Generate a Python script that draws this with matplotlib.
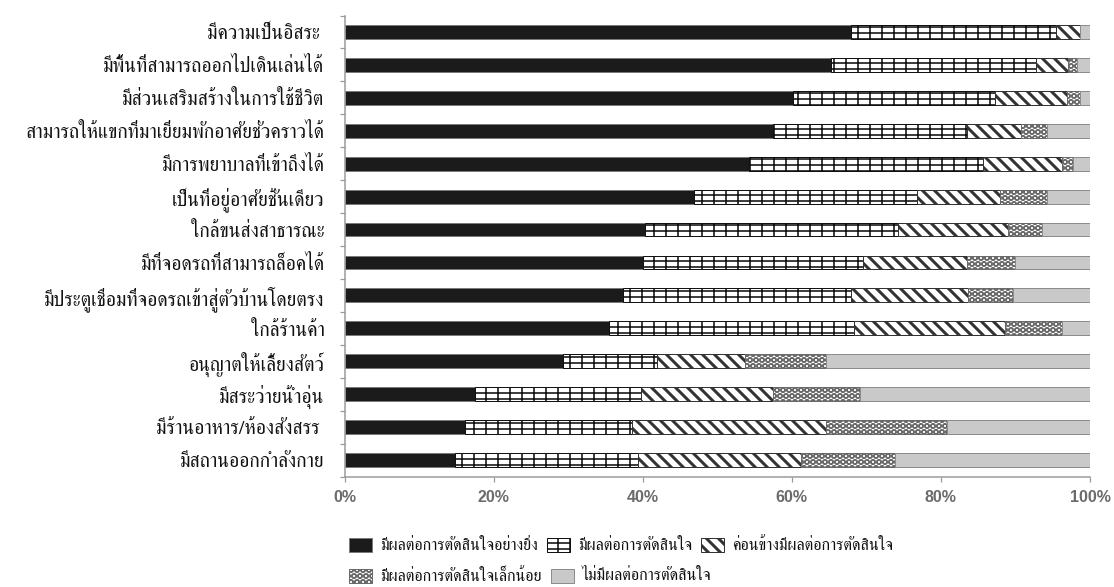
import numpy as np
import matplotlib
matplotlib.use("Agg")
import matplotlib.pyplot as plt
from matplotlib.patches import Rectangle

# factors, top row first
factors = [
    "มีความเป็นอิสระ ",
    "มีพื้นที่สามารถออกไปเดินเล่นได้",
    "มีส่วนเสริมสร้างในการใช้ชีวิต",
    "สามารถให้แขกที่มาเยี่ยมพักอาศัยชั่วคราวได้",
    "มีการพยาบาลที่เข้าถึงได้",
    "เป็นที่อยู่อาศัยชั้นเดียว",
    "ใกล้ขนส่งสาธารณะ",
    "มีที่จอดรถที่สามารถล็อคได้",
    "มีประตูเชื่อมที่จอดรถเข้าสู่ตัวบ้านโดยตรง",
    "ใกล้ร้านค้า",
    "อนุญาตให้เลี้ยงสัตว์",
    "มีสระว่ายน้ำอุ่น",
    "มีร้านอาหาร/ห้องสังสรร ",
    "มีสถานออกกำลังกาย",
]

series_names = [
    "มีผลต่อการตัดสินใจอย่างยิ่ง",
    "มีผลต่อการตัดสินใจ",
    "ค่อนข้างมีผลต่อการตัดสินใจ",
    "มีผลต่อการตัดสินใจเล็กน้อย",
    "ไม่มีผลต่อการตัดสินใจ",
]

# percent of respondents
strongly = [68.0, 65.3, 60.2, 57.5, 54.3, 46.9, 40.3, 40.1, 37.4, 35.5, 29.3, 17.5, 16.2, 14.8]
affects  = [27.4, 27.5, 27.1, 26.0, 31.3, 29.9, 34.0, 29.4, 30.6, 32.8, 12.6, 22.3, 22.3, 24.6]
somewhat = [3.3, 4.3, 9.6, 7.3, 10.6, 11.1, 14.7, 14.0, 15.7, 20.3, 11.8, 17.7, 26.1, 21.9]
slightly = [0.0, 1.2, 1.8, 3.4, 1.5, 6.3, 4.6, 6.4, 6.0, 7.7, 10.9, 11.6, 16.2, 12.5]
no_effect = [1.3, 1.7, 1.3, 5.8, 2.3, 5.8, 6.4, 10.1, 10.3, 3.7, 35.4, 30.9, 19.2, 26.2]

x_ticks = [0, 20, 40, 60, 80, 100]
x_ticklabels = ["0%", "20%", "40%", "60%", "80%", "100%"]

# fill, edge/hatch colour, hatch, hatch width
styles = [
    dict(facecolor="#1b1b1b", edgecolor="#7a7a7a", hatch=None, hlw=1.0),
    dict(facecolor="white", edgecolor="#111111", hatch="|--", hlw=1.6),
    dict(facecolor="white", edgecolor="#333333", hatch="\\\\", hlw=3.0),
    dict(facecolor="white", edgecolor="#6a6a6a", hatch="OO", hlw=1.5),
    dict(facecolor="#c9c9c9", edgecolor="#8c8c8c", hatch=None, hlw=1.0),
]

W, H = 1114, 587
DPI = 72
fig = plt.figure(figsize=(W / DPI, H / DPI), dpi=DPI)
ax = fig.add_axes([344.5 / W, 1 - 476.5 / H, (1090 - 344.5) / W, (476.5 - 15.5) / H])

thai = ["FreeSerif", "DejaVu Serif"]
y = np.arange(len(factors))
left = np.zeros(len(factors))
data = [strongly, affects, somewhat, slightly, no_effect]
for vals, st in zip(data, styles):
    plt.rcParams["hatch.linewidth"] = st["hlw"]
    bars = ax.barh(y, vals, left=left, height=0.42, facecolor=st["facecolor"],
                   edgecolor=st["edgecolor"], hatch=st["hatch"], linewidth=1.0)
    for b in bars:
        if hasattr(b, "set_hatch_linewidth"):
            b.set_hatch_linewidth(st["hlw"])
    left += np.array(vals)

ax.set_xlim(0, 100)
ax.set_ylim(len(factors) - 0.5, -0.5)

ax.set_xticks(x_ticks)
ax.set_xticklabels(x_ticklabels, fontsize=16, color="#6b6b6b",
                   family=["Liberation Sans", "DejaVu Sans"], fontweight="bold")
ax.tick_params(axis="x", direction="out", length=5, width=1.2, color="#999999", pad=9)

ax.set_yticks(y)
ax.set_yticklabels(factors, fontsize=19.5, family=thai, color="#111111")
ax.tick_params(axis="y", which="major", length=0, pad=20)
ax.set_yticks(np.arange(len(factors) + 1) - 0.5, minor=True)
ax.tick_params(axis="y", which="minor", direction="out", length=5, width=1.2, color="#999999")

for side in ["top", "right"]:
    ax.spines[side].set_visible(False)
for side in ["left", "bottom"]:
    ax.spines[side].set_color("#999999")
    ax.spines[side].set_linewidth(1.5)

# legend: swatch + label laid out left to right, two rows
rows = [(545, [0, 1, 2]), (576, [3, 4])]
x_start, x_end = 349, 893          # first row spans this width
sw_w, sw_h, txt_off, gap = 23, 14, 31, 9

texts = [fig.text(0, 0, name, family=thai, fontsize=16, ha="left", va="center",
                  color="#111111") for name in series_names]
fig.canvas.draw()
r = fig.canvas.get_renderer()
widths = [t.get_window_extent(r).width for t in texts]
row1 = sum(widths[i] for i in rows[0][1])
avail = (x_end - x_start) - len(rows[0][1]) * txt_off - (len(rows[0][1]) - 1) * gap
scale = avail / row1
for t in texts:
    t.set_fontsize(16 * scale)
widths = [w * scale for w in widths]

for py, idx in rows:
    px = x_start
    for i in idx:
        st = styles[i]
        plt.rcParams["hatch.linewidth"] = st["hlw"]
        sw = Rectangle((px / W, 1 - (py + sw_h / 2) / H), sw_w / W, sw_h / H,
                       transform=fig.transFigure, facecolor=st["facecolor"],
                       edgecolor=st["edgecolor"], hatch=st["hatch"], linewidth=1.0)
        if hasattr(sw, "set_hatch_linewidth"):
            sw.set_hatch_linewidth(st["hlw"])
        fig.add_artist(sw)
        texts[i].set_position(((px + txt_off) / W, 1 - py / H))
        px += txt_off + widths[i] + gap

fig.savefig("out.png", dpi=DPI)
